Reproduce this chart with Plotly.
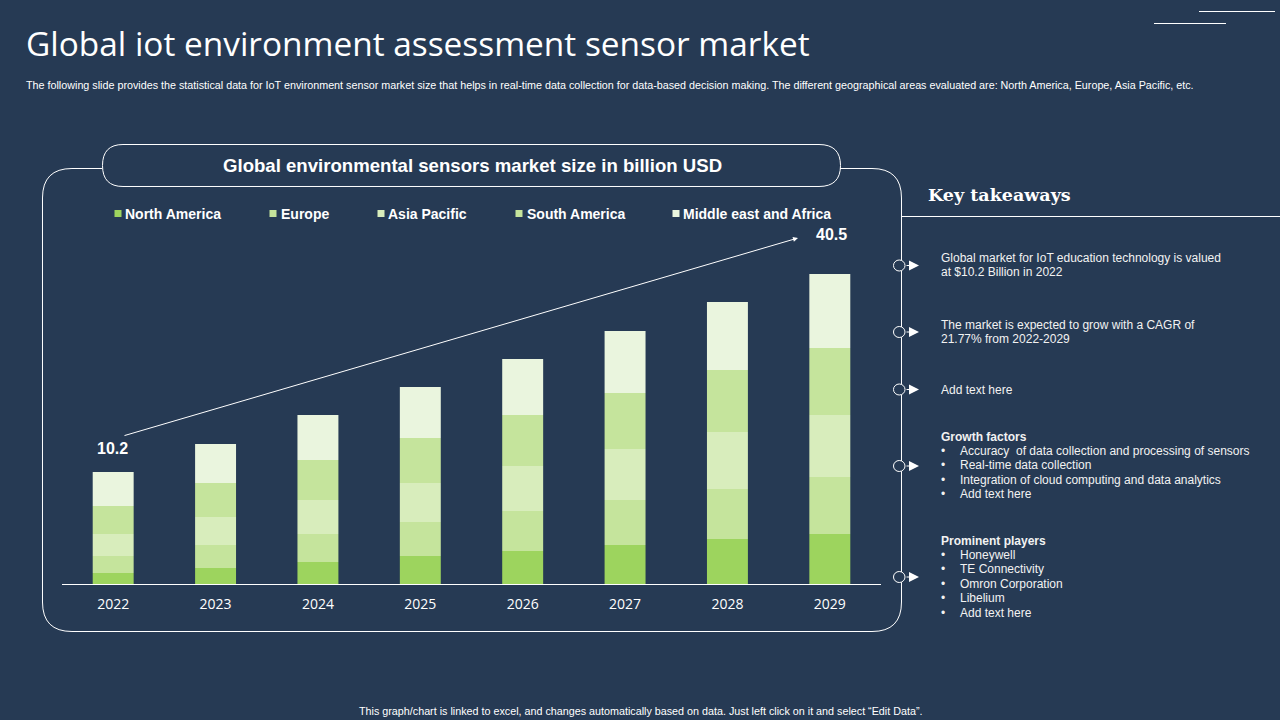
import pandas as pd
import plotly.express as px

BG = "#263A54"
WHITE = "#FFFFFF"
SANS = "Liberation Sans"


def getMarketBins():
    # bar segments, bottom to top
    bins = {
        "year": ["2022", "2023", "2024", "2025", "2026", "2027", "2028", "2029"],
        "North America": [11, 16, 22, 28, 33, 39, 45, 50],
        "Europe": [17, 23, 28, 34, 40, 45, 50, 57],
        "Asia Pacific": [22, 28, 34, 39, 45, 51, 57, 62],
        "South America": [28, 34, 40, 45, 51, 56, 62, 67],
        "Middle east and Africa": [34, 39, 45, 51, 56, 62, 68, 74],
    }
    return pd.DataFrame(bins)


def sx(x):
    # paper runs over the plot area only: 62..881 across
    return (x - 62) / 819


def sy(y):
    # and 200..584 down
    return (584 - y) / 384


def addText(fig, x, y, text, size=12, color=WHITE, family=SANS, anchor="left"):
    fig.add_annotation(x=sx(x), y=sy(y), xref="paper", yref="paper", text=text, showarrow=False,
                       xanchor=anchor, yanchor="middle",
                       font=dict(family=family, size=size, color=color),
                       borderpad=0, borderwidth=0)


def addArrow(fig, x0, y0, x1, y1, size=1.0, width=1.0):
    fig.add_annotation(x=sx(x1), y=sy(y1), xref="paper", yref="paper", ax=x0 - x1, ay=y0 - y1,
                       axref="pixel", ayref="pixel", text=" ", showarrow=True, arrowhead=2,
                       arrowsize=size, arrowwidth=width, arrowcolor=WHITE, standoff=0,
                       font=dict(size=1))


def addPath(fig, points, width=1.0, fill=None):
    # M/L/Q commands in picture pixels
    parts = []
    for p in points:
        parts.append(p[0] + " " + " ".join(f"{sx(p[i]):.5f},{sy(p[i + 1]):.5f}" for i in range(1, len(p), 2)))
    fig.add_shape(type="path", path=" ".join(parts), xref="paper", yref="paper",
                  line=dict(color=WHITE, width=width), fillcolor=fill)


def addLine(fig, x0, y0, x1, y1, width=1.0):
    fig.add_shape(type="line", x0=sx(x0), y0=sy(y0), x1=sx(x1), y1=sy(y1), xref="paper", yref="paper",
                  line=dict(color=WHITE, width=width))


def plotMarket():
    df = getMarketBins()
    colors = {
        "North America": "#9DD45E",
        "Europe": "#C5E49C",
        "Asia Pacific": "#D8EDBC",
        "South America": "#C5E49C",
        "Middle east and Africa": "#EAF5DE",
    }
    fig = px.bar(df, x="year", y=list(colors.keys()), color_discrete_map=colors)
    fig.update_traces(marker_line_width=0)
    fig.update_layout(
        autosize=False,
        width=1280,
        height=720,
        margin=dict(l=62, r=399, t=200, b=136),
        paper_bgcolor=BG,
        plot_bgcolor=BG,
        bargap=0.6,
        showlegend=False,
    )
    fig.update_xaxes(title=None, showline=True, linecolor=WHITE, linewidth=1, showgrid=False, ticks="outside",
                     ticklen=7, tickcolor=BG, tickfont=dict(family="Open Sans", size=14, color=WHITE))
    fig.update_yaxes(visible=False, range=[0, 384])

    # headings
    addText(fig, 26, 43, "Global iot environment assessment sensor market", size=33.4, family="Open Sans")
    addText(fig, 26, 85, "The following slide provides the statistical data for IoT environment sensor market size that helps in real-time data collection for data-based decision making. The different geographical areas evaluated are: North America, Europe, Asia Pacific, etc.", size=10.75)
    addText(fig, 640, 711, "This graph/chart is linked to excel, and changes automatically based on data. Just left click on it and select \u201cEdit Data\u201d.", size=10.75, anchor="center")
    addLine(fig, 1199, 11.5, 1275, 11.5)
    addLine(fig, 1154, 23.5, 1226, 23.5)

    # panel and its title pill
    addPath(fig, [("M", 102, 168.5), ("L", 72, 168.5), ("Q", 42.5, 168.5, 42.5, 198), ("L", 42.5, 602),
                  ("Q", 42.5, 631.5, 72, 631.5), ("L", 872, 631.5), ("Q", 901.5, 631.5, 901.5, 602),
                  ("L", 901.5, 198), ("Q", 901.5, 168.5, 872, 168.5), ("L", 840, 168.5)])
    addPath(fig, [("M", 123, 144.5), ("L", 819, 144.5), ("Q", 840.5, 144.5, 840.5, 165.5), ("Q", 840.5, 186.5, 819, 186.5),
                  ("L", 123, 186.5), ("Q", 102.5, 186.5, 102.5, 165.5), ("Q", 102.5, 144.5, 123, 144.5)])
    addText(fig, 472, 165.5, "<b>Global environmental sensors market size in billion USD</b>", size=18.6, anchor="center")

    # legend row
    legend = [("North America", 118, 125), ("Europe", 273, 281), ("Asia Pacific", 381, 388),
              ("South America", 519, 527), ("Middle east and Africa", 676, 683)]
    for name, box, label in legend:
        fig.add_shape(type="rect", x0=sx(box - 3.5), x1=sx(box + 3.5), y0=sy(217), y1=sy(210), xref="paper",
                      yref="paper", fillcolor=colors[name], line_width=0)
        addText(fig, label, 214, f"<b>{name}</b>", size=14)

    # growth arrow
    addArrow(fig, 123, 436, 798, 238)
    addText(fig, 112, 448, "<b>10.2</b>", size=16, anchor="center")
    addText(fig, 831, 234, "<b>40.5</b>", size=16, anchor="center")

    # key takeaways
    addText(fig, 928, 195, "<b>Key takeaways</b>", size=17.5, family="DejaVu Serif")
    addLine(fig, 901, 216.5, 1280, 216.5)
    for y in [265.5, 332, 389.5, 466, 577]:
        addArrow(fig, 905, y, 919, y, size=2)
        fig.add_shape(type="circle", x0=sx(893.5), x1=sx(905), y0=sy(y + 5.5), y1=sy(y - 5.5), xref="paper",
                      yref="paper", fillcolor=BG, line=dict(color=WHITE, width=1))

    lines = [(257.5, "Global market for IoT education technology is valued"), (271.5, "at $10.2 Billion in 2022"),
             (324.5, "The market is expected to grow with a CAGR of"), (338.5, "21.77% from 2022-2029"),
             (389.5, "Add text here"), (436.5, "<b>Growth factors</b>"), (540.5, "<b>Prominent players</b>")]
    for y, text in lines:
        addText(fig, 941, y, text, color="#F2F2F2")
    bullets = [(450.5, "Accuracy  of data collection and processing of sensors"), (464.5, "Real-time data collection"),
               (479.5, "Integration of cloud computing and data analytics"), (493.5, "Add text here"),
               (554.5, "Honeywell"), (569, "TE Connectivity"), (583.5, "Omron Corporation"),
               (597.5, "Libelium"), (612.5, "Add text here")]
    for y, text in bullets:
        addText(fig, 941, y, "\u2022", color="#F2F2F2")
        addText(fig, 960, y, text, color="#F2F2F2")

    fig.write_html("out.html", config=dict(displayModeBar=False), post_script="document.body.style.margin='0';")


if __name__ == "__main__":
    plotMarket()
